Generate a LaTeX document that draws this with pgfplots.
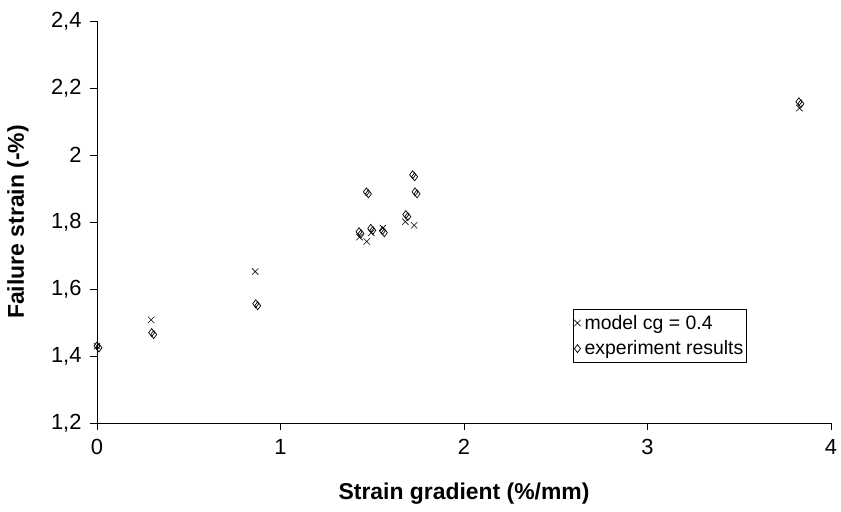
\documentclass[border=0pt]{standalone}
\usepackage{fontspec}
\setmainfont{Liberation Sans}
\usepackage{pgfplots}
\pgfplotsset{compat=1.18}
\begin{document}
\begin{tikzpicture}
\begin{axis}[
  scale only axis,
  width=734bp, height=402bp,
  xmin=0, xmax=4, ymin=1.2, ymax=2.4,
  xtick={0,1,2,3,4},
  ytick={1.2,1.4,1.6,1.8,2,2.2,2.4},
  axis lines=left,
  axis line style={-, line width=0.8bp, black},
  tick align=outside,
  major tick length=7bp,
  tick style={line width=0.8bp, black},
  /pgf/number format/use comma,
  /pgf/number format/assume math mode=true,
  ticklabel style={font=\fontsize{22}{25}\selectfont},
  xticklabel style={yshift=-6bp},
  yticklabel style={xshift=-5bp},
  xlabel={\textbf{Strain gradient (\%/mm)}},
  ylabel={\textbf{Failure strain (-\%)}},
  label style={font=\fontsize{23}{26}\selectfont},
  xlabel style={at={(axis description cs:0.5,-0.175)}, anchor=center},
  ylabel style={at={(axis description cs:-0.1076,0.5)}, anchor=center},
  legend style={at={(0.6485,0.2836)}, anchor=north west, draw=black, line width=0.6bp,
    font=\fontsize{19.5}{22}\selectfont, inner xsep=1bp, inner ysep=4bp, row sep=6bp,
    /tikz/every odd column/.append style={column sep=2bp}},
  legend cell align=left,
  clip=false,
]
\addplot[only marks, mark=x, mark size=4.5bp, black, line width=0.6bp] coordinates {
  (0.000,1.430) (0.295,1.508) (0.862,1.652) (1.430,1.755) (1.470,1.742)
  (1.495,1.768) (1.558,1.782) (1.680,1.801) (1.728,1.790) (3.828,2.140)
};
\addlegendentry{model cg = 0.4}
\addplot[only marks, mark=diamond, mark size=4bp, black, line width=0.7bp, forget plot] coordinates {
  (0.000,1.430) (0.298,1.470) (0.865,1.556) (1.428,1.771) (1.468,1.890)
  (1.492,1.781) (1.555,1.774) (1.683,1.822) (1.720,1.941) (1.733,1.890) (3.825,2.159)
};
\addplot[only marks, mark=diamond, mark size=4bp, black, line width=0.7bp] coordinates {
  (0.011,1.424) (0.309,1.464) (0.876,1.550) (1.439,1.765) (1.479,1.884)
  (1.503,1.775) (1.566,1.768) (1.694,1.816) (1.731,1.935) (1.744,1.884) (3.836,2.153)
};
\addlegendentry{experiment results}
\end{axis}
\pgfresetboundingbox
\path[use as bounding box] (-97bp,-89bp) rectangle (744bp,423bp);
\end{tikzpicture}
\end{document}
